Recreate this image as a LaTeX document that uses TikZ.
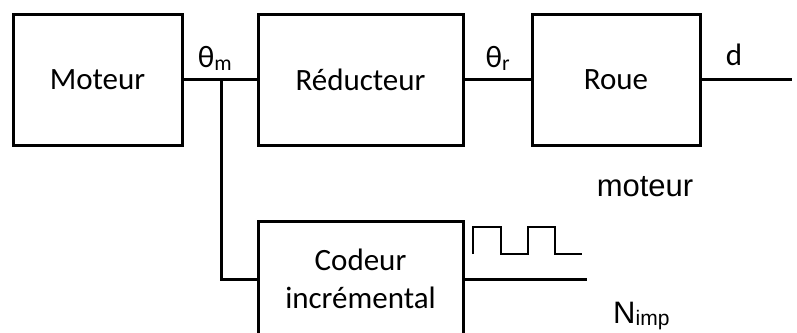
\documentclass[tikz,border=0pt]{standalone}
\usepackage{fontspec}
\setmainfont{Carlito}
\newfontfamily\arialfont{Liberation Sans}
\begin{document}
\begin{tikzpicture}[x=1pt,y=-1pt,
  blk/.style={draw,line width=3pt,inner sep=0pt,align=center,
    font=\fontsize{31}{38}\selectfont},
  wire/.style={line width=3pt},
  lbl/.style={inner sep=0pt,font=\fontsize{31}{36}\selectfont},
  albl/.style={inner sep=0pt,font=\arialfont\fontsize{31}{36}\selectfont}]
\path[use as bounding box] (0,0) rectangle (797,332);
\clip (0,0) rectangle (797,332);
\node[blk,minimum width=169pt,minimum height=131pt] (mot) at (97.5,79.5) {Moteur};
\node[blk,minimum width=205pt,minimum height=131pt] (red) at (360.5,79.5) {Réducteur};
\node[blk,minimum width=168pt,minimum height=131pt] (roue) at (616,79.5) {Roue};
\node[blk,minimum width=205pt,minimum height=116pt] (cod) at (360.5,279) {Codeur\\incrémental};
\coordinate (br) at (221,79.5);
\coordinate (dout) at (792,79.5);
\coordinate (nout) at (587,279);
\draw[wire] (mot.east) -- (red.west);
\draw[wire] (red.east) -- (roue.west);
\draw[wire] (roue.east) -- (dout);
\draw[wire] (br) |- (cod.west);
\draw[wire] (cod.east) -- (nout);
\node[lbl,anchor=base] (thm) at (215,67) {θ\textsubscript{m}};
\node[lbl,anchor=base] (thr) at (498,67) {θ\textsubscript{r}};
\node[lbl,anchor=base] (dl) at (734,65) {d};
\node[albl,anchor=base] (mt) at (645,196) {moteur};
\node[albl,anchor=base west] (ni) at (613,323) {N\raisebox{-2pt}{\fontsize{21}{24}\selectfont imp}};
\draw[line width=2pt] (473,254) -- (473,227) -- (501,227) -- (501,254) -- (528,254)
  -- (528,227) -- (555,227) -- (555,254) -- (582,254);
\end{tikzpicture}
\end{document}
